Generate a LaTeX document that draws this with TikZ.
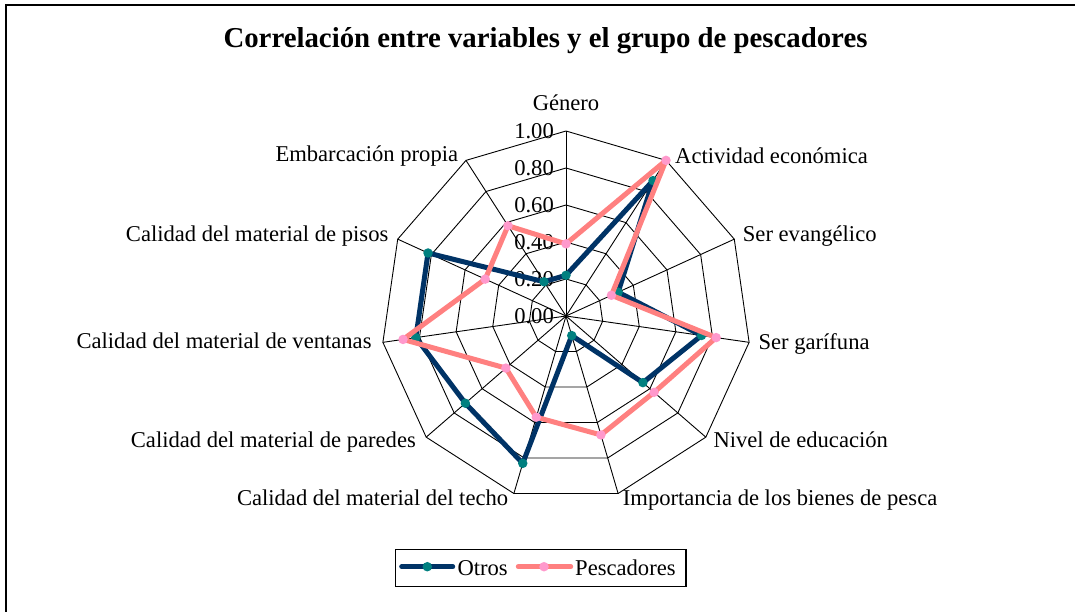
\documentclass[tikz,border=0pt]{standalone}
\usepackage{fontspec}
\setmainfont{Liberation Serif}
\definecolor{otros}{RGB}{0,51,102}
\definecolor{otrosm}{RGB}{0,128,128}
\definecolor{pesc}{RGB}{255,128,128}
\definecolor{pescm}{RGB}{255,153,204}
\begin{document}
\begin{tikzpicture}[x=1pt,y=-1pt,
  lbl/.style={font=\fontsize{22.6}{26}\selectfont, inner sep=0pt},
  gridline/.style={draw=black, line width=0.9pt},
  otrosline/.style={draw=otros, line width=5pt, line join=round},
  pescline/.style={draw=pesc, line width=5pt, line join=round},
  otrosmark/.style={circle, fill=otrosm, inner sep=0pt, minimum size=9.5pt},
  pescmark/.style={circle, fill=pescm, inner sep=0pt, minimum size=9.5pt}]
\useasboundingbox (0,0) rectangle (1075,611);
\fill[white] (0,0) rectangle (1075,611);
\draw[line width=2pt] (6,620) -- (6,5) -- (1085,5);
\node[font=\bfseries\fontsize{28.8}{32}\selectfont, anchor=base, inner sep=0pt] (title) at (545.5,47.7) {Correlación entre variables y el grupo de pescadores};
\begin{scope}[shift={(566,316)}, y=1pt]
  \coordinate (C) at (0,0);
  \foreach \k in {0,...,10} \draw[gridline] (C) -- ({90-\k*360/11}:185);
  \foreach \r in {37,74,111,148,185}
    \draw[gridline] (90:\r) \foreach \k in {1,...,10}{ -- ({90-\k*360/11}:\r)} -- cycle;
  \foreach \i/\t in {0/0.00,1/0.20,2/0.40,3/0.60,4/0.80,5/1.00}
    \node[lbl, anchor=east] (t\i) at (-12,{\i*37}) {\t};
  \foreach \v [count=\k from 0] in {0.22,0.87,0.31,0.74,0.55,0.11,0.83,0.72,0.82,0.82,0.22}
    \coordinate (o\k) at ({90-\k*360/11}:{185*\v});
  \foreach \v [count=\k from 0] in {0.39,1.00,0.27,0.82,0.63,0.67,0.57,0.43,0.89,0.48,0.58}
    \coordinate (p\k) at ({90-\k*360/11}:{185*\v});
  \draw[otrosline] (o0) -- (o1) -- (o2) -- (o3) -- (o4) -- (o5) -- (o6) -- (o7) -- (o8) -- (o9) -- (o10) -- cycle;
  \foreach \k in {0,...,10} \node[otrosmark] (om\k) at (o\k) {};
  \draw[pescline] (p0) -- (p1) -- (p2) -- (p3) -- (p4) -- (p5) -- (p6) -- (p7) -- (p8) -- (p9) -- (p10) -- cycle;
  \foreach \k in {0,...,10} \node[pescmark] (pm\k) at (p\k) {};
\end{scope}
\node[lbl, anchor=base] (l0) at (566,110.7) {Género};
\node[lbl, anchor=base west] (l1) at (675,163.3) {Actividad económica};
\node[lbl, anchor=base west] (l2) at (742.7,241.7) {Ser evangélico};
\node[lbl, anchor=base west] (l3) at (758.3,349.3) {Ser garífuna};
\node[lbl, anchor=base west] (l4) at (713.3,447.7) {Nivel de educación};
\node[lbl, anchor=base west] (l5) at (622.7,505) {Importancia de los bienes de pesca};
\node[lbl, anchor=base east] (l6) at (508.3,505) {Calidad del material del techo};
\node[lbl, anchor=base east] (l7) at (416,447) {Calidad del material de paredes};
\node[lbl, anchor=base east] (l8) at (371.7,348.3) {Calidad del material de ventanas};
\node[lbl, anchor=base east] (l9) at (388.5,241.7) {Calidad del material de pisos};
\node[lbl, anchor=base east] (l10) at (458.3,161.7) {Embarcación propia};
% legend
\draw[line width=1.2pt] (395.7,549.3) rectangle (686,586.7);
\coordinate (la) at (401.7,566.7);
\coordinate (lb) at (452.7,566.7);
\draw[otrosline, line cap=round] (la) -- (lb);
\node[otrosmark] (lom) at (427.3,566.7) {};
\node[lbl, anchor=base west] (lot) at (457.3,575.7) {Otros};
\coordinate (lc) at (518.3,566.7);
\coordinate (ld) at (570.7,566.7);
\draw[pescline, line cap=round] (lc) -- (ld);
\node[pescmark] (lpm) at (544,566.7) {};
\node[lbl, anchor=base west] (lpt) at (575,575.7) {Pescadores};
\end{tikzpicture}
\end{document}
